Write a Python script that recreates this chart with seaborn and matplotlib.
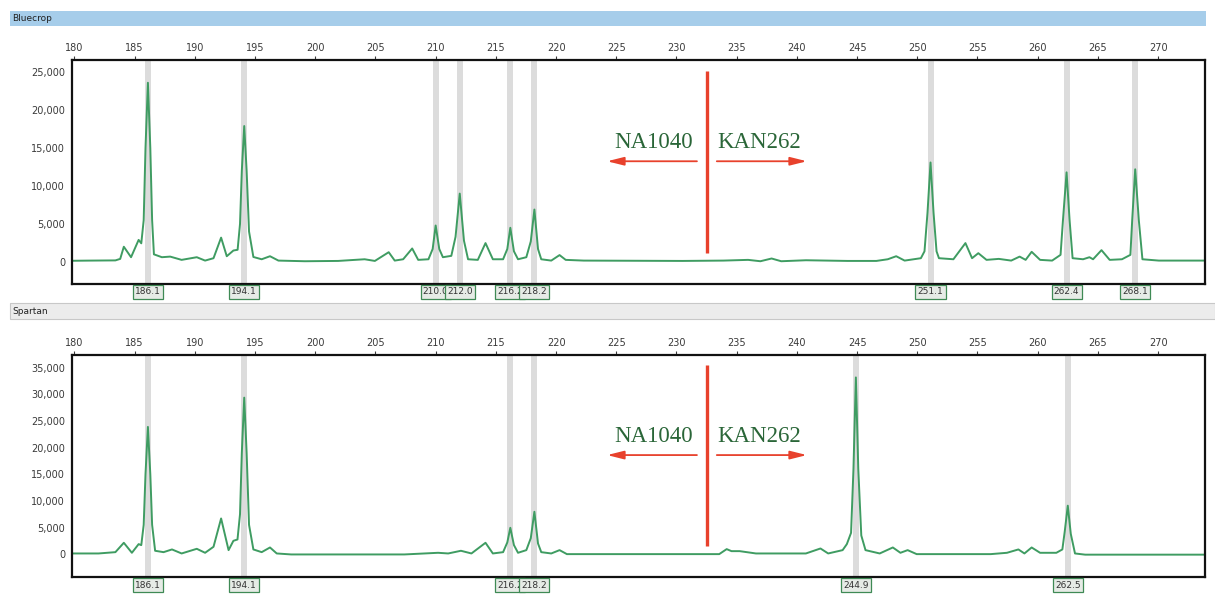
import matplotlib
matplotlib.use('Agg')
import matplotlib.pyplot as plt
import seaborn as sns
import pandas as pd
from matplotlib.patches import Rectangle

# --- data (size in bp, signal in RFU) ---
bluecrop_size = [179.8, 181.0, 183.4, 183.8, 184.1, 184.7, 185.33, 185.55, 185.75, 185.9,
                 186.1, 186.3, 186.45, 186.6, 187.26, 187.95, 188.9, 190.16, 190.85, 191.55,
                 192.18, 192.65, 193.2, 193.55, 193.75, 193.9, 194.1, 194.3, 194.5, 194.86,
                 195.55, 196.24, 196.94, 199.14, 201.9, 204.1, 204.95, 206.1, 206.6, 207.3,
                 208.05, 208.55, 209.4, 209.75, 210.0, 210.3, 210.6, 211.3, 211.65, 212.0,
                 212.35, 212.69, 213.5, 214.14, 214.75, 215.6, 215.95, 216.2, 216.5, 216.84,
                 217.53, 217.9, 218.2, 218.5, 218.77, 219.6, 220.29, 220.8, 222.3, 230.5,
                 233.9, 235.95, 236.97, 237.9, 238.7, 240.75, 244.2, 246.6, 247.55, 248.25,
                 248.95, 250.3, 250.6, 250.85, 251.1, 251.35, 251.6, 251.8, 253.0, 254.0,
                 254.55, 255.07, 255.75, 256.77, 257.8, 258.5, 259.0, 259.5, 260.2, 261.2,
                 261.9, 262.1, 262.4, 262.65, 262.9, 263.77, 264.3, 264.6, 265.3, 265.98,
                 267.0, 267.7, 267.85, 268.1, 268.4, 268.7, 270.06, 273.9]
bluecrop_rfu = [150, 170, 200, 400, 2000, 620, 2900, 2450, 5500, 15000,
                23600, 15000, 5500, 1000, 620, 700, 270, 620, 175, 490,
                3200, 750, 1500, 1600, 5000, 12000, 17900, 12000, 4000, 650,
                350, 750, 175, 90, 130, 350, 130, 1280, 175, 350,
                1770, 270, 350, 1700, 4800, 1700, 620, 800, 3300, 9000,
                2800, 350, 270, 2480, 350, 350, 1700, 4500, 1400, 350,
                620, 2700, 6900, 1700, 350, 175, 900, 270, 175, 130,
                175, 270, 90, 450, 90, 220, 130, 130, 350, 750,
                175, 490, 1400, 6500, 13100, 6500, 1400, 490, 350, 2480,
                490, 1150, 270, 400, 175, 700, 270, 1330, 270, 175,
                930, 5500, 11800, 5500, 490, 350, 620, 350, 1550, 270,
                350, 930, 5500, 12200, 5500, 350, 175, 175]

spartan_size = [179.8, 182.0, 183.4, 184.1, 184.77, 185.33, 185.55, 185.75, 185.9, 186.1,
                186.3, 186.45, 186.7, 187.4, 188.1, 188.9, 190.16, 190.85, 191.55, 192.18,
                192.8, 193.2, 193.54, 193.75, 193.9, 194.1, 194.3, 194.5, 194.86, 195.55,
                196.24, 196.8, 198.0, 207.4, 210.2, 211.04, 212.1, 212.97, 214.14, 214.75,
                215.6, 215.95, 216.2, 216.5, 216.84, 217.53, 217.9, 218.2, 218.5, 218.77,
                219.6, 220.29, 220.9, 222.3, 233.55, 234.17, 234.57, 235.25, 236.6, 239.7,
                240.75, 241.96, 242.6, 243.8, 244.15, 244.5, 244.7, 244.9, 245.1, 245.35,
                245.7, 246.88, 247.97, 248.6, 249.2, 249.95, 256.1, 257.45, 258.4, 258.9,
                259.5, 260.2, 261.55, 262.05, 262.25, 262.5, 262.75, 263.1, 263.95, 273.9]
spartan_rfu = [125, 125, 370, 2130, 250, 1880, 1690, 5500, 15000, 23900,
               15000, 5500, 630, 370, 880, 125, 1000, 250, 1380, 6700,
               750, 2500, 2750, 7500, 19000, 29400, 19000, 5500, 880, 370,
               1250, 125, -60, -60, 250, 125, 630, 125, 2130, 125,
               370, 2200, 4950, 1700, 250, 750, 3000, 7960, 2000, 370,
               125, 750, 0, 0, 0, 940, 560, 560, 125, 125,
               125, 1060, 125, 750, 1880, 4000, 16000, 33200, 16000, 3500,
               750, 125, 1250, 250, 750, 0, 0, 250, 880, 125,
               1250, 250, 250, 880, 4300, 9100, 3800, 125, -100, -100]

bluecrop_calls = [186.1, 194.1, 210.0, 212.0, 216.2, 218.2, 251.1, 262.4, 268.1]
bluecrop_call_labels = ['186.1', '194.1', '210.0', '212.0', '216.2', '218.2', '251.1', '262.4', '268.1']
spartan_calls = [186.1, 194.1, 216.2, 218.2, 244.9, 262.5]
spartan_call_labels = ['186.1', '194.1', '216.2', '218.2', '244.9', '262.5']

size_ticks = list(range(180, 275, 5))
bluecrop_yticks = [0, 5000, 10000, 15000, 20000, 25000]
spartan_yticks = [0, 5000, 10000, 15000, 20000, 25000, 30000, 35000]

sns.set_style('white')
plt.rcParams['font.family'] = ['DejaVu Sans']

TRACE = '#3f9c62'
RED = '#e8412c'
TXT = '#2a6638'

fig = plt.figure(figsize=(12.15, 5.94), dpi=100)

# header bars
fig.add_artist(Rectangle((0.008, 0.956), 0.985, 0.026, transform=fig.transFigure,
                         fc='#a6cdea', ec='none'))
fig.text(0.010, 0.969, 'Bluecrop', fontsize=6.5, va='center', color='#222')
fig.add_artist(Rectangle((0.008, 0.463), 0.992, 0.027, transform=fig.transFigure,
                         fc='#ececec', ec='#c8c8c8', lw=0.8))
fig.text(0.010, 0.476, 'Spartan', fontsize=6.5, va='center', color='#222')

panels = [
    dict(rect=[0.0593, 0.522, 0.9325, 0.377], size=bluecrop_size, rfu=bluecrop_rfu,
         calls=bluecrop_calls, labels=bluecrop_call_labels, yticks=bluecrop_yticks,
         ylim=(-2900, 26600), red=(1190, 25200), txt_y=15780, arr_y=13260),
    dict(rect=[0.0593, 0.0286, 0.9325, 0.374], size=spartan_size, rfu=spartan_rfu,
         calls=spartan_calls, labels=spartan_call_labels, yticks=spartan_yticks,
         ylim=(-4300, 37440), red=(1500, 35530), txt_y=22180, arr_y=18610),
]

for p in panels:
    ax = fig.add_axes(p['rect'])
    df = pd.DataFrame({'size': p['size'], 'rfu': p['rfu']})
    for c in p['calls']:
        ax.axvspan(c - 0.25, c + 0.25, color='#dcdcdc', lw=0, zorder=0)
    sns.lineplot(data=df, x='size', y='rfu', ax=ax, color=TRACE, lw=1.4, sort=False, zorder=2)
    ax.set_xlim(179.8, 273.9)
    ax.set_ylim(*p['ylim'])
    ax.set_xlabel('')
    ax.set_ylabel('')
    ax.xaxis.tick_top()
    ax.set_xticks(size_ticks)
    ax.set_yticks(p['yticks'])
    ax.set_yticklabels([f'{v:,}' for v in p['yticks']])
    ax.tick_params(axis='both', labelsize=7, colors='#3a3a3a', length=3, width=0.8, pad=2)
    for s in ax.spines.values():
        s.set_color('#111')
        s.set_linewidth(1.6)

    # peak call boxes below the plot
    for c, lab in zip(p['calls'], p['labels']):
        ax.text(c, -0.036, lab, transform=ax.get_xaxis_transform(), ha='center', va='center',
                fontsize=6.5, color='#333', clip_on=False,
                bbox=dict(boxstyle='square,pad=0.25', fc='#e6ebe6', ec='#3f8a55', lw=0.9))

    # allele boundary annotation
    ax.plot([232.53, 232.53], p['red'], color=RED, lw=2.4, solid_capstyle='butt', zorder=3)
    ax.text(228.14, p['txt_y'], 'NA1040', ha='center', va='center', fontsize=16.5,
            family=['Liberation Serif', 'DejaVu Serif'], color=TXT)
    ax.text(236.85, p['txt_y'], 'KAN262', ha='center', va='center', fontsize=16.5,
            family=['Liberation Serif', 'DejaVu Serif'], color=TXT)
    arrow = dict(arrowstyle='-|>,head_length=1.0,head_width=0.25', color=RED, lw=1.3,
                 shrinkA=0, shrinkB=0)
    ax.annotate('', xy=(224.24, p['arr_y']), xytext=(231.7, p['arr_y']), arrowprops=arrow)
    ax.annotate('', xy=(240.83, p['arr_y']), xytext=(233.35, p['arr_y']), arrowprops=arrow)

fig.savefig('out.png', dpi=100)
